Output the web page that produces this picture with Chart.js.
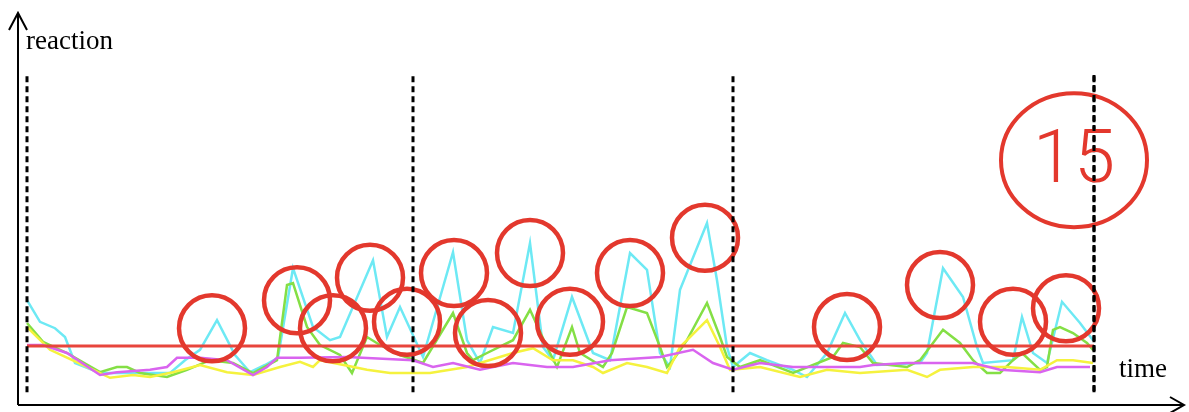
<!DOCTYPE html>
<html>
<head>
<meta charset="utf-8">
<script src="https://cdn.jsdelivr.net/npm/chart.js@4"></script>
<style>
  body { margin: 0; background: #fff; }
  #wrap { width: 1189px; height: 412px; }
</style>
</head>
<body>
<div id="wrap"><canvas id="chart" width="1189" height="412"></canvas></div>
<script>
// time / reaction pairs
var cyan = [[0,26.2],[1.3,20.8],[2.8,19.2],[3.8,17],[4.8,10.5],[7.3,8],[14.3,8],[15.8,11.2],[17.3,13.8],[19,21.2],[20.8,12.5],[22.3,8.2],[23.8,10],[25.1,11.8],
  [26.6,34.2],[28.6,19.5],[30.3,16.2],[31.3,17],[34.6,36.2],[36,17],[37.3,24.5],[39.6,12],[42.6,38.2],[44,16.2],[45.3,10.5],[46.6,19.5],[48.6,18],
  [50.3,40.5],[51.6,14.5],[52.6,11.2],[54.5,27],[56.6,13],[58.3,11.2],[60.3,38],[62,33.8],[63.3,13],[64.3,9.5],[65.3,28.8],[68,45.5],[69,31.2],
  [70,14.5],[70.6,9.5],[72.3,13],[74,11.2],[76.6,8.8],[78,7],[80,13],[81.8,23],[83.3,16.2],[85,10],[89.3,10.5],[90,13],[91.6,34.2],[93.6,27],
  [95,14.5],[95.6,10.5],[98.6,11.2],[99.5,22],[100.6,13],[102,10.5],[103.5,25.8],[105.3,20.5],[106.6,16.2]];

var green = [[0,20.5],[1.6,15.8],[4,13],[7.3,8.2],[9,9.5],[10,9.5],[11.3,8],[14,7],[16,8.8],[18.3,11.2],[20.6,10.5],[22.6,8],[25,11.2],[26,30],
  [26.6,30.5],[28,19.5],[29.3,15],[31.3,12.5],[32.5,8],[34,17],[35.3,15],[37.3,12.5],[39.6,10.5],[42.6,23],[44,13],[44.6,11.2],[46,13],[48.6,16.2],
  [50.3,23.8],[52,14.5],[53,9.5],[54.5,19.5],[55.3,13],[57.6,9.5],[58.5,13],[60,24.5],[62,23],[63.3,14.5],[64,9.5],[64.6,11.2],[66,16.2],[68,25.5],
  [69.3,17],[70,12],[71.3,9.5],[73.3,11.2],[76.6,8],[80.6,12],[81.6,15.5],[83.3,14.5],[84.6,10.5],[88,9.5],[89.3,11.2],[90.3,14.5],[91.6,18.8],
  [93.3,15.5],[94.6,11.2],[96,8],[97.3,8],[98.6,11.2],[99.5,13],[101.3,8.8],[102,9.5],[102.6,18.8],[103.3,19.5],[104.6,18],[106,15.5],[106.6,13.8]];

var yellow = [[0,19.5],[2.3,13.8],[5.6,10],[8.3,6.8],[10.6,7.5],[12.3,7],[14.6,8.2],[17.3,10],[20,8.2],[22.6,7.5],[25.3,9.5],[27.3,10.8],[28.6,9.5],
  [29.3,11.2],[34,8.8],[36.3,8],[40.3,8],[44,9.5],[48.6,13],[50.6,14.2],[52.6,11.2],[54.6,11.2],[56.6,9.5],[57.6,8],[60,10.5],[62,9.5],[64,8],
  [65.3,14.5],[68,21.2],[69.3,14.5],[70.3,8.8],[73.3,9.5],[77.3,7],[80,8.8],[83.3,8],[88,8.8],[90,7],[91.3,8.8],[94.6,9.5],[98,9.5],[101.3,8.8],
  [103,11.2],[104.6,11.2],[106.6,10.5]];

var magenta = [[0,15],[1.6,15],[4,13],[7.3,7.5],[9,8.2],[12.3,8.8],[14,9.5],[15,11.8],[17.3,11.8],[20,11.2],[22.6,7.5],[24,9.5],[25,11.8],[27.3,11.8],
  [32,12],[38.6,11.2],[40.6,9.5],[42.6,10.5],[45.3,8.8],[48.6,10.5],[52,9.5],[54.6,9.5],[58.3,11.2],[63.3,12],[66.6,13.8],[68.6,10.5],[70.6,8.8],
  [73.3,10.5],[76.6,9.5],[80,9.5],[83.3,9.5],[84.6,10],[88,10.5],[94.6,10.5],[97.3,8.8],[101.3,8.2],[103,9.5],[106.3,9.5]];

var threshold = 14.75;
var tStart = 0, tEnd = 106.7;
var dividers = [0, 38.6, 70.6, 106.7];
var dividerTop = 82.5, dividerBottom = 3.2;

// peaks that are circled
var circled = [[18.5,19.2],[27,26.2],[30.6,19.2],[34.3,31.8],[38,20.8],[42.7,33],[46.1,18],[50.3,38],[54.3,20.8],[60.3,33],[67.8,41.8],
  [82,19.5],[91.3,30],[98.6,20.8],[103.9,24.2]];
var countMark = [104.7, 61.2];
var countLabel = "15";

// axis extent (origin at reaction 0)
var axisT0 = -0.9, axisT1 = 115.7, axisTop = 98;

function pts(arr){ return arr.map(function(p){ return {x:p[0], y:p[1]}; }); }

var RED = "#e3382d";

var datasets = [];
dividers.forEach(function(t){
  datasets.push({ data: [{x:t,y:dividerBottom},{x:t,y:dividerTop}], borderColor: "#000", borderWidth: 3,
    borderDash: [6,4], pointRadius: 0, order: 0, clip: false });
});
datasets.push({ type: 'scatter', data: pts(circled), pointRadius: 33, pointHoverRadius: 33, pointBorderWidth: 4.5,
  pointBorderColor: RED, pointBackgroundColor: "rgba(0,0,0,0)", showLine: false, order: 1, clip: false });
datasets.push({ data: [{x:tStart,y:threshold},{x:tEnd,y:threshold}], borderColor: "#e8453c", borderWidth: 3, pointRadius: 0, order: 2, clip: false });
datasets.push({ data: pts(magenta), borderColor: "#d964ef", borderWidth: 2.5, pointRadius: 0, order: 3, clip: false });
datasets.push({ data: pts(yellow), borderColor: "#f5f23e", borderWidth: 2.5, pointRadius: 0, order: 4, clip: false });
datasets.push({ data: pts(green), borderColor: "#84df45", borderWidth: 2.5, pointRadius: 0, order: 5, clip: false });
datasets.push({ data: pts(cyan), borderColor: "#6de9f4", borderWidth: 2.5, pointRadius: 0, order: 6, clip: false });

var axesPlugin = {
  id: 'axesArrows',
  afterDatasetsDraw: function(chart){
    var ctx = chart.ctx;
    var xs = chart.scales.x, ys = chart.scales.y;
    ctx.save();
    // big count circle
    var cx = xs.getPixelForValue(countMark[0]), cy = ys.getPixelForValue(countMark[1]);
    ctx.strokeStyle = RED; ctx.lineWidth = 4;
    ctx.beginPath(); ctx.ellipse(cx, cy, 73, 67, 0, 0, Math.PI*2); ctx.stroke();
    ctx.fillStyle = RED; ctx.font = "300 74px Roboto"; ctx.textAlign = "center"; ctx.textBaseline = "middle";
    ctx.fillText(countLabel, cx, cy + 3);
    // divider on top of the count circle
    var dx = xs.getPixelForValue(dividers[dividers.length-1]);
    ctx.strokeStyle = "#000"; ctx.lineWidth = 3; ctx.setLineDash([6,4]);
    ctx.beginPath(); ctx.moveTo(dx, ys.getPixelForValue(dividerTop)); ctx.lineTo(dx, ys.getPixelForValue(dividerBottom)); ctx.stroke();
    ctx.setLineDash([]);
    // axes
    var left = xs.getPixelForValue(axisT0), right = xs.getPixelForValue(axisT1);
    var bottom = ys.getPixelForValue(0), top = ys.getPixelForValue(axisTop);
    ctx.strokeStyle = "#000"; ctx.lineWidth = 2;
    ctx.beginPath();
    ctx.moveTo(left, bottom); ctx.lineTo(left, top);
    ctx.moveTo(left - 9, top + 17); ctx.lineTo(left, top); ctx.lineTo(left + 9, top + 17);
    ctx.moveTo(left, bottom); ctx.lineTo(right, bottom);
    ctx.moveTo(right - 14, bottom - 8); ctx.lineTo(right, bottom); ctx.lineTo(right - 14, bottom + 8);
    ctx.stroke();
    // axis titles
    ctx.fillStyle = "#000"; ctx.font = "27px 'Liberation Serif'"; ctx.textAlign = "left"; ctx.textBaseline = "alphabetic";
    ctx.fillText("reaction", left + 8, top + 36);
    ctx.textAlign = "right";
    ctx.fillText("time", right - 17, bottom - 28);
    ctx.restore();
  }
};

new Chart(document.getElementById("chart"), {
  type: 'line',
  data: { datasets: datasets },
  options: {
    responsive: false,
    animation: false,
    layout: { padding: 40 },
    plugins: { legend: { display: false }, tooltip: { enabled: false } },
    elements: { line: { tension: 0 } },
    scales: {
      x: { type: 'linear', min: 1.3, max: 112.2, display: false },
      y: { min: 8.25, max: 91.25, display: false }
    }
  },
  plugins: [axesPlugin]
});
</script>
</body>
</html>
